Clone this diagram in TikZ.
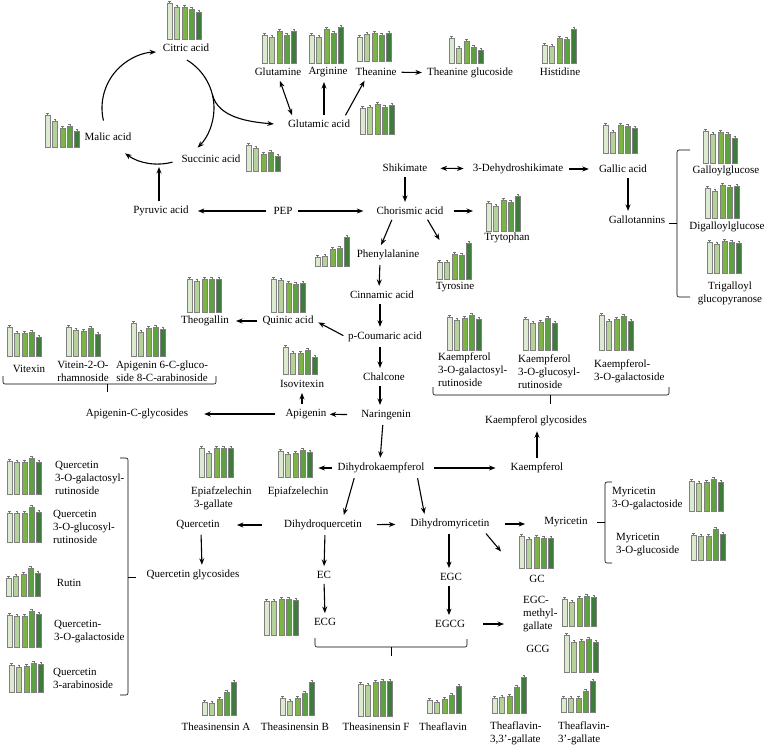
\documentclass[tikz,border=0pt]{standalone}
\usepackage{fontspec}
\setmainfont{Liberation Serif}
\usetikzlibrary{arrows.meta}

\definecolor{bar1}{HTML}{DCEACF}
\definecolor{bar2}{HTML}{B5D29B}
\definecolor{bar3}{HTML}{7DB544}
\definecolor{bar4}{HTML}{5CA23F}
\definecolor{bar5}{HTML}{3E7C3C}

\newcommand{\lblfont}{\fontsize{11}{13}\selectfont}
% five bars: name, left x, baseline y, heights
\newcommand{\barchart}[4]{%
  \node[inner sep=0pt, minimum width=35pt, minimum height=36pt, anchor=south west] (#1) at (#2,-#3) {};
  \foreach \h [count=\i] in {#4}{
    \draw[bar, fill=bar\i] ({#2+(\i-1)*7.4},-#3) rectangle ++(5,\h);
    \draw[err] ({#2+(\i-1)*7.4+2.5},{-#3+\h}) -- ++(0,2) ++(-1.3,0) -- ++(2.6,0);
  }}

\tikzset{
  lbl/.style={inner sep=2pt, font=\lblfont},
  arr/.style={-{Stealth[length=6.5pt,width=5pt]}, line width=1.1pt, shorten <=3pt, shorten >=3pt},
  darr/.style={arr, {Stealth[length=6.5pt,width=5pt]}-{Stealth[length=6.5pt,width=5pt]}},
  cyc/.style={-{Stealth[length=6.5pt,width=5pt]}, line width=1.1pt},
  brk/.style={line width=0.6pt, rounded corners=2pt},
  bar/.style={line width=0.35pt, draw=black!50},
  err/.style={line width=0.4pt, draw=black!55},
}

\begin{document}
\begin{tikzpicture}[x=1pt, y=1pt]
\useasboundingbox (0,0) rectangle (767,-748);

% TCA cycle
\node[lbl] (cit) at (186,-48) {Citric acid};
\node[lbl] (mal) at (108,-137) {Malic acid};
\node[lbl] (suc) at (211,-159) {Succinic acid};
\node[lbl] (pyr) at (161,-211) {Pyruvic acid};
\node[lbl] (pep) at (283,-211) {PEP};
\coordinate (tca) at (158,-108);
\coordinate (tcain) at (159,-167);
\barchart{citbar}{167}{39}{36,32,32,30,27}
\barchart{malbar}{45}{147}{32,26,19,21,16}
\barchart{sucbar}{246}{171}{26,23,17,19,15}

% amino acids
\node[lbl] (glum) at (278,-72) {Glutamine};
\node[lbl] (arg) at (328,-72) {Arginine};
\node[lbl] (thea) at (376,-72) {Theanine};
\node[lbl] (theag) at (470,-73) {Theanine glucoside};
\node[lbl] (glu) at (319,-124) {Glutamic acid};
\node[lbl] (his) at (560,-72) {Histidine};
\barchart{glumbar}{262}{63}{28,26,32,28,32}
\barchart{argbar}{309}{63}{28,26,34,30,36}
\barchart{theabar}{357}{61}{24,27,28,26,28}
\barchart{theagbar}{449}{63}{25,15,22,16,13}
\barchart{glubar}{360}{134}{26,27,30,27,29}
\barchart{hisbar}{542}{63}{18,17,25,24,34}

% shikimate and gallic acid
\node[lbl] (shik) at (405,-168) {Shikimate};
\node[lbl] (dhs) at (518,-169) {3-Dehydroshikimate};
\node[lbl] (gal) at (623,-169) {Gallic acid};
\node[lbl] (gtan) at (637,-220) {Gallotannins};
\node[lbl] (ggl) at (726,-171) {Galloylglucose};
\node[lbl] (dgg) at (727,-227) {Digalloylglucose};
\node[lbl, align=center] (tgg) at (730,-293) {Trigalloyl\\glucopyranose};
\node[lbl] (chor) at (410,-211) {Chorismic acid};
\node[lbl] (tryp) at (507,-238) {Trytophan};
\node[lbl] (tyr) at (455,-287) {Tyrosine};
\barchart{galbar}{603}{153}{28,21,28,27,25}
\barchart{gglbar}{703}{163}{32,29,31,29,25}
\barchart{dggbar}{705}{218}{30,27,33,31,32}
\barchart{tggbar}{707}{273}{31,29,32,31,30}
\barchart{trypbar}{486}{231}{28,25,31,29,35}
\barchart{tyrbar}{437}{279}{17,17,25,24,36}
\draw[brk] (690,-150) -- (677,-150) -- (677,-297) -- (690,-297);
\draw[brk] (677,-223) -- (669,-223);

% phenylpropanoid
\node[lbl] (phe) at (388,-255) {Phenylalanine};
\node[lbl] (cin) at (382,-295) {Cinnamic acid};
\node[lbl] (pcou) at (385,-337) {p-Coumaric acid};
\node[lbl] (quin) at (288,-321) {Quinic acid};
\node[lbl] (theo) at (205,-321) {Theogallin};
\node[lbl] (chal) at (384,-377) {Chalcone};
\node[lbl] (nar) at (386,-415) {Naringenin};
\node[lbl] (api) at (306,-414) {Apigenin};
\node[lbl] (isov) at (302,-384) {Isovitexin};
\node[lbl] (apic) at (137,-414) {Apigenin-C-glycosides};
\node[lbl] (vitx) at (29,-369) {Vitexin};
\node[lbl, align=center] (vitr) at (83,-371) {Vitein-2-O-\\rhamnoside};
\node[lbl, align=center] (ap6c) at (162,-371) {Apigenin 6-C-gluco-\\side 8-C-arabinoside};
\barchart{phebar}{315}{266}{9,10,17,18,29}
\barchart{theobar}{187}{312}{33,31,33,33,33}
\barchart{quinbar}{271}{312}{33,32,29,28,29}
\barchart{isovbar}{283}{374}{27,21,21,24,17}
\barchart{vitxbar}{7}{356}{29,23,23,24,19}
\barchart{vitrbar}{66}{356}{29,26,25,28,22}
\barchart{ap6cbar}{131}{356}{33,24,28,29,27}
\draw[brk] (3,-376) -- (3,-384) -- (216,-384) -- (216,-376);
\draw[brk] (107,-384) -- (107,-392);

% kaempferol
\node[lbl, align=left, anchor=west] (k1) at (436,-370) {Kaempferol\\3-O-galactosyl-\\rutinoside};
\node[lbl, align=left, anchor=west] (k2) at (516,-372) {Kaempferol\\3-O-glucosyl-\\rutinoside};
\node[lbl, align=left, anchor=west] (k3) at (592,-371) {Kaempferol-\\3-O-galactoside};
\node[lbl] (kgly) at (536,-421) {Kaempferol glycosides};
\node[lbl] (kae) at (537,-468) {Kaempferol};
\node[lbl] (dhk) at (381,-468) {Dihydrokaempferol};
\barchart{k1bar}{447}{350}{33,30,32,35,31}
\barchart{k2bar}{523}{350}{31,27,28,32,27}
\barchart{k3bar}{599}{350}{35,29,31,34,29}
\draw[brk] (433,-387) -- (433,-395) -- (669,-395) -- (669,-387);
\draw[brk] (550,-395) -- (550,-404);

% flavan-3-ols and quercetin
\node[lbl] (epi) at (298,-492) {Epiafzelechin};
\node[lbl, align=left, anchor=west] (epig) at (189,-498) {Epiafzelechin\\\hspace{3pt}3-gallate};
\node[lbl] (dhq) at (323,-525) {Dihydroquercetin};
\node[lbl] (que) at (198,-525) {Quercetin};
\node[lbl] (qgly) at (193,-575) {Quercetin glycosides};
\node[lbl] (ec) at (324,-575) {EC};
\node[lbl] (ecg) at (325,-622) {ECG};
\barchart{epibar}{278}{477}{26,23,24,27,25}
\barchart{epigbar}{199}{477}{29,24,29,29,29}
\barchart{ecgbar}{264}{635}{34,34,36,36,35}

\node[lbl, align=left, anchor=west] (q1) at (53,-478) {Quercetin\\3-O-galactosyl-\\rutinoside};
\node[lbl, align=left, anchor=west] (q2) at (51,-527) {Quercetin\\3-O-glucosyl-\\rutinoside};
\node[lbl] (rut) at (69,-583) {Rutin};
\node[lbl, align=left, anchor=west] (q4) at (52,-632) {Quercetin-\\3-O-galactoside};
\node[lbl, align=left, anchor=west] (q5) at (51,-678) {Quercetin\\3-arabinoside};
\barchart{q1bar}{7}{494}{33,32,32,36,32}
\barchart{q2bar}{7}{542}{29,29,29,35,30}
\barchart{rutbar}{6}{596}{18,20,22,28,23}
\barchart{q4bar}{7}{647}{32,31,31,36,33}
\barchart{q5bar}{9}{692}{27,25,26,29,28}
\draw[brk] (120,-458) -- (128,-458) -- (128,-695) -- (120,-695);
\draw[brk] (128,-577) -- (136,-577);

% myricetin branch
\node[lbl] (dhm) at (450,-524) {Dihydromyricetin};
\node[lbl] (myr) at (566,-522) {Myricetin};
\node[lbl] (gc) at (537,-579) {GC};
\node[lbl] (egc) at (451,-577) {EGC};
\node[lbl] (egcg) at (450,-624) {EGCG};
\node[lbl, align=left, anchor=west] (egcm) at (521,-614) {EGC-\\methyl-\\gallate};
\node[lbl] (gcg) at (538,-649) {GCG};
\node[lbl, align=left, anchor=west] (my1) at (610,-499) {Myricetin\\3-O-galactoside};
\node[lbl, align=left, anchor=west] (my2) at (614,-545) {Myricetin\\3-O-glucoside};
\barchart{gcbar}{519}{568}{32,29,31,30,30}
\barchart{egcmbar}{562}{626}{27,24,28,30,29}
\barchart{gcgbar}{564}{672}{37,30,31,33,30}
\barchart{my1bar}{689}{511}{30,28,29,32,29}
\barchart{my2bar}{691}{560}{25,24,24,31,26}
\draw[brk] (612,-482) -- (605,-482) -- (605,-563) -- (612,-563);
\draw[brk] (605,-522) -- (597,-522);
\draw[brk] (315,-638) -- (315,-647) -- (467,-647) -- (467,-639);
\draw[brk] (391,-647) -- (391,-656);

% theasinensins and theaflavins
\node[lbl] (tsa) at (216,-727) {Theasinensin A};
\node[lbl] (tsb) at (295,-727) {Theasinensin B};
\node[lbl] (tsf) at (376,-727) {Theasinensin F};
\node[lbl] (tf) at (443,-727) {Theaflavin};
\node[lbl, align=left, anchor=west] (tf33) at (488,-733) {Theaflavin-\\3,3'-gallate};
\node[lbl, align=left, anchor=west] (tf3) at (556,-733) {Theaflavin-\\3'-gallate};
\barchart{tsabar}{202}{715}{13,12,16,23,33}
\barchart{tsbbar}{280}{715}{17,14,17,22,33}
\barchart{tsfbar}{358}{716}{32,31,34,35,35}
\barchart{tfbar}{427}{713}{13,11,14,18,27}
\barchart{tf33bar}{492}{713}{15,16,17,26,36}
\barchart{tf3bar}{561}{712}{14,14,14,21,31}

% connectors
\draw[cyc] ([shift={(193:56)}]tca) arc[start angle=193, end angle=92, radius=56];
\draw[cyc] ([shift={(59:56)}]tca) arc[start angle=59, end angle=-45, radius=56];
\draw[cyc] ([shift={(285:56)}]tca) arc[start angle=285, end angle=234, radius=56];
\draw[cyc] ([shift={(14:56)}]tca) .. controls +(-76:24) and +(175:25) .. ([xshift=-12]glu.west);
\draw[arr, shorten >=0pt] (pyr.north -| tcain) -- (tcain);
\draw[arr, shorten <=5pt, shorten >=7pt] (pep) -- (pyr);
\draw[arr, shorten >=11pt] (pep) -- (chor);

\draw[darr] ([xshift=-26]glu.north) -- ([xshift=1]glum.south);
\draw[arr] ([xshift=5]glu.north) -- ([xshift=-4]arg.south);
\draw[arr] ([xshift=25]glu.north) -- ([xshift=-10]thea.south);
\draw[arr] (thea) -- (theag);

\draw[darr, shorten <=11pt, shorten >=7pt] (shik) -- (dhs);
\draw[arr, shorten <=4pt, shorten >=8pt] (dhs) -- (gal);
\draw[arr] ([xshift=5]gal.south) -- ([xshift=-9]gtan.north);
\draw[arr] (shik.south) -- ([xshift=-5]chor.north);
\draw[arr, shorten <=8pt, shorten >=13pt] (chor) -- (chor -| trypbar.west);
\draw[arr] ([xshift=-17]chor.south) -- ([xshift=-8]phe.north);
\draw[arr] ([xshift=16]chor.south) -- ([xshift=4]tyrbar.north west);

\draw[arr] ([xshift=-8]phe.south) -- ([xshift=-3]cin.north);
\draw[arr] ([xshift=-2]cin.south) -- ([xshift=-5]pcou.north);
\draw[arr] (pcou.west) -- (quin.east);
\draw[arr, shorten >=5pt] (quin) -- (theo);
\draw[arr] ([xshift=-5]pcou.south) -- ([xshift=-4]chal.north);
\draw[arr] ([xshift=-4]chal.south) -- ([xshift=-6]nar.north);
\draw[arr, shorten <=12pt, shorten >=1pt] (nar) -- (api);
\draw[arr] (api.north -| isov) -- (isov.south);
\draw[arr, shorten <=8pt, shorten >=14pt] (api) -- (apic);

\draw[arr] (kae.north) -- (kae.north |- kgly.south);
\draw[arr] ([xshift=-3]nar.south) -- ([xshift=-1]dhk.north);
\draw[arr, shorten >=13pt, shorten <=7pt] (dhk) -- (kae);

\draw[arr, shorten >=5pt] (dhk.west) -- (dhk.west -| epibar.east);
\draw[arr] ([xshift=-26]dhk.south) -- ([xshift=20]dhq.north);
\draw[arr] ([xshift=36]dhk.south) -- ([xshift=-25]dhm.north);
\draw[arr, shorten <=20pt, shorten >=15pt] (dhq) -- (que);
\draw[arr, shorten <=13pt, shorten >=13pt] (dhq) -- (dhm);
\draw[arr] ([xshift=3]que.south) -- ([xshift=9]qgly.north);
\draw[arr] ([xshift=2]dhq.south) -- (ec.north);
\draw[arr] (ec.south) -- (ecg.north);

\draw[arr, shorten <=13pt, shorten >=17pt] (dhm) -- (dhm -| myr.west);
\draw[arr] ([xshift=34]dhm.south) -- ([xshift=-16,yshift=-4]gcbar.west);
\draw[arr] ([xshift=-1]dhm.south) -- ([xshift=-2]egc.north);
\draw[arr] ([xshift=-2]egc.south) -- ([xshift=-1]egcg.north);
\draw[arr, shorten <=16pt, shorten >=17pt] (egcg) -- (egcg -| egcm.west);
\end{tikzpicture}
\end{document}
